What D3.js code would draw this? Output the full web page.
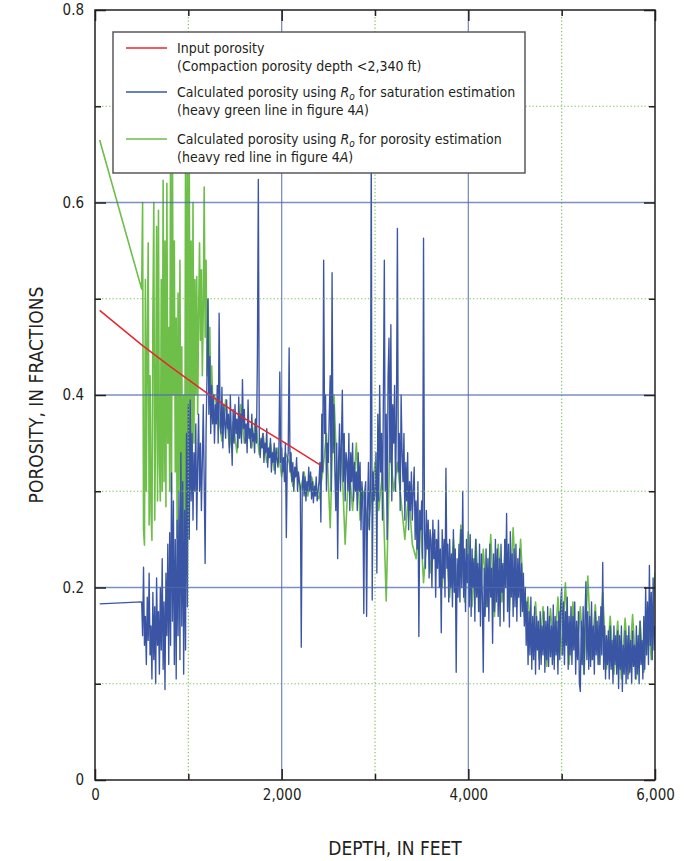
<!DOCTYPE html>
<html>
<head>
<meta charset="utf-8">
<script src="https://cdnjs.cloudflare.com/ajax/libs/d3/7.8.5/d3.min.js"></script>
<style>
  body { margin: 0; background: #fff; }
  svg text { font-family: "DejaVu Sans Condensed", "Liberation Sans Narrow", "Arial Narrow", sans-serif; font-stretch: condensed; fill: #231f20; }
</style>
</head>
<body>
<div id="chart"></div>
<script>
// input porosity, compaction curve (red)
var redDepth = [50, 500, 800, 1200, 1560, 2040, 2420];
var redPorosity = [0.488, 0.452, 0.430, 0.402, 0.378, 0.350, 0.327];

// Ro for saturation estimation (blue) - flat lead-in, then log every 10 ft (thousandths)
var blueLeadDepth = [50, 500];
var blueLeadPorosity = [0.183, 0.185];
var blueStart = 500, blueStep = 10;
var blueValues = [
  185,150,221,140,170,120,190,145,215,130,
  160,105,195,125,180,100,210,140,175,110,
  200,135,230,115,185,94,215,150,245,120,
  257,140,319,165,290,120,250,105,270,150,
  300,125,340,160,310,110,280,135,360,180,
  390,250,395,290,360,270,340,300,370,260,
  330,380,300,350,280,330,390,310,225,360,
  420,500,380,440,360,410,370,400,350,390,
  370,410,350,485,380,360,408,345,390,370,
  355,395,365,380,340,400,360,327,385,350,
  390,360,375,345,398,355,380,350,416,365,
  385,350,370,340,395,355,365,345,380,352,
  360,340,375,350,440,624,360,335,355,345,
  360,330,350,340,365,325,345,335,355,320,
  340,330,350,318,345,335,325,340,424,330,
  345,320,335,310,350,252,330,340,449,320,
  340,310,330,300,325,315,335,300,320,310,
  305,138,300,320,295,315,290,310,300,325,
  300,320,292,310,288,305,295,315,290,300,
  310,330,268,380,320,540,360,400,300,350,
  330,380,420,300,527,340,390,320,280,350,
  230,330,370,300,350,405,310,360,290,340,
  330,300,360,280,340,310,350,290,330,300,
  320,280,340,300,330,260,310,290,173,300,
  310,170,280,330,260,300,660,187,320,290,
  300,340,215,380,290,410,320,360,270,400,
  540,300,380,250,420,459,330,473,290,390,
  350,410,300,380,573,320,360,280,400,340,
  310,360,270,330,290,340,260,310,280,320,
  270,300,325,250,290,240,310,149,280,260,
  290,230,563,260,220,280,240,270,210,260,
  250,200,270,230,260,190,250,220,270,200,
  240,153,260,210,250,190,324,220,245,185,
  250,200,235,180,260,195,240,112,230,190,
  245,185,260,200,300,190,240,175,250,205,
  235,180,255,170,240,200,230,165,250,190,
  225,175,245,160,235,190,112,220,170,240,
  180,230,165,245,190,220,142,235,175,250,
  185,240,170,230,160,245,195,225,165,250,
  200,277,175,245,159,258,190,235,170,240,
  180,245,165,230,190,240,170,225,175,215,
  160,200,140,185,120,175,130,190,115,170,
  125,180,110,170,135,165,115,175,120,160,
  130,175,112,165,125,180,118,170,128,160,
  120,182,115,170,130,165,110,175,125,185,
  200,130,185,120,175,140,190,115,170,130,
  180,120,170,135,185,110,165,125,175,100,
  92,165,120,180,110,170,206,125,175,115,
  170,118,185,125,160,110,175,130,165,120,
  170,120,180,130,226,115,160,105,150,120,
  155,105,160,115,145,100,160,120,150,110,
  155,95,150,115,160,92,140,110,155,100,
  150,105,160,112,145,100,155,118,140,105,
  160,110,150,100,165,120,145,105,170,115,
  200,130,185,120,223,140,195,125,210,135,
  160
];

// Ro for porosity estimation (green) - straight lead-in, dense shallow part, coarser deep part
var greenLeadDepth = [50];
var greenLeadPorosity = [0.665];
var greenNearStart = 500, greenNearStep = 10;
var greenNearValues = [
  510,600,260,244,520,300,450,558,265,420,
  280,249,480,600,270,380,575,290,592,330,
  290,520,300,623,310,560,284,620,350,470,
  300,680,298,650,400,560,320,480,252,506,
  300,540,270,450,197,400,180,650,263,680,
  300,640,330,560,298,600,350,520,400,523,
  380,481,558,457,530,420,490,616,460,540,
  420,500,440,470,400,430,400
];
var greenFarStart = 1280, greenFarStep = 40;
var greenFarValues = [
  400,380,352,395,345,372,340,390,350,365,
  345,375,338,360,330,350,322,345,315,340,
  330,305,325,300,320,295,315,300,292,320,
  360,262,400,300,345,245,330,280,350,270,
  300,260,290,330,280,320,186,350,300,330,
  290,250,300,245,230,280,205,260,215,250,
  240,200,255,190,250,195,265,185,258,180,
  250,175,240,180,255,170,245,185,250,175,
  262,180,250,170,190,135,185,125,180,118,
  178,125,190,130,205,120,185,128,180,110,
  212,125,182,120,195,115,170,110,165,105,
  168,110,172,105,165,112,180,125,215
];

var xMajor = [0, 2000, 4000, 6000];
var xMinor = [1000, 3000, 5000];
var yMajor = [0, 0.2, 0.4, 0.6, 0.8];
var yMinor = [0.1, 0.3, 0.5, 0.7];

var legendItems = [
  {key: "red", first: "Input porosity", second: "(Compaction porosity depth <2,340 ft)"},
  {key: "blue", first: "saturation", second: "(heavy green line in figure 4"},
  {key: "green", first: "porosity", second: "(heavy red line in figure 4"}
];

var porosityChart = {
  colors: {red: "#e8262d", blue: "#3a55a4", green: "#6dbf4a"},

  draw: function() {
    var margin = {top: 10, right: 29, bottom: 81, left: 95};
    var width = 684 - margin.left - margin.right;
    var height = 861 - margin.top - margin.bottom;

    var svg = d3.select("#chart").append("svg")
        .attr("width", 684)
        .attr("height", 861);

    var g = svg.append("g")
        .attr("transform", "translate(" + margin.left + "," + margin.top + ")");

    var x = d3.scaleLinear().domain([0, 6000]).range([0, width]);
    var y = d3.scaleLinear().domain([0, 0.8]).range([height, 0]);

    g.append("clipPath").attr("id", "plot-clip")
      .append("rect").attr("width", width).attr("height", height);

    // series
    var line = d3.line()
        .x(function(d) { return x(d[0]); })
        .y(function(d) { return y(d[1]); });

    var green = greenLeadDepth.map(function(d, i) { return [d, greenLeadPorosity[i]]; })
      .concat(greenNearValues.map(function(v, i) { return [greenNearStart + i * greenNearStep, v / 1000]; }))
      .concat(greenFarValues.map(function(v, i) { return [greenFarStart + i * greenFarStep, v / 1000]; }));

    var blue = blueLeadDepth.map(function(d, i) { return [d, blueLeadPorosity[i]]; })
      .concat(blueValues.map(function(v, i) { return [blueStart + i * blueStep, v / 1000]; }).slice(1));

    var red = redDepth.map(function(d, i) { return [d, redPorosity[i]]; });

    var series = g.append("g").attr("clip-path", "url(#plot-clip)");
    [["green", green, 1.6], ["blue", blue, 1.35], ["red", red, 1.5]].forEach(function(s) {
      series.append("path")
        .datum(s[1])
        .attr("fill", "none")
        .attr("stroke", porosityChart.colors[s[0]])
        .attr("stroke-width", s[2])
        .attr("stroke-linejoin", "round")
        .attr("d", line);
    });

    porosityChart.grid(g, x, y, width, height);
    porosityChart.axes(g, x, y, width, height);
    porosityChart.legend(g);

    // axis titles
    svg.append("text")
      .attr("x", 395)
      .attr("y", 855)
      .attr("text-anchor", "middle")
      .style("font-size", "19px")
      .text("DEPTH, IN FEET");

    svg.append("text")
      .attr("transform", "translate(43," + (margin.top + height / 2) + ") rotate(-90)")
      .attr("text-anchor", "middle")
      .style("font-size", "19px")
      .text("POROSITY, IN FRACTIONS");
  },

  grid: function(g, x, y, width, height) {
    var grid = g.append("g").attr("class", "grid");

    // dotted minor lines
    grid.selectAll(".minor-x").data(xMinor).enter().append("line")
      .attr("x1", x).attr("x2", x).attr("y1", 0).attr("y2", height);
    grid.selectAll(".minor-y").data(yMinor).enter().append("line")
      .attr("x1", 0).attr("x2", width).attr("y1", y).attr("y2", y);
    grid.selectAll("line")
      .attr("stroke", "#7cc35a")
      .attr("stroke-width", 1.2)
      .attr("stroke-dasharray", "1.3,2.2");

    // solid major lines
    grid.selectAll(".major-x").data(xMajor.slice(1, -1)).enter().append("line")
      .attr("class", "major")
      .attr("x1", x).attr("x2", x).attr("y1", 0).attr("y2", height);
    grid.selectAll(".major-y").data(yMajor.slice(1, -1)).enter().append("line")
      .attr("class", "major")
      .attr("x1", 0).attr("x2", width).attr("y1", y).attr("y2", y);
    grid.selectAll(".major")
      .attr("stroke", "#4f69b0")
      .attr("stroke-opacity", 0.75)
      .attr("stroke-width", 1.3);
  },

  axes: function(g, x, y, width, height) {
    var fmtX = d3.format(",");
    var fmtY = function(d) { return d === 0 ? "0" : d3.format(".1f")(d); };

    var axisList = [
      {axis: d3.axisBottom(x).tickValues(xMajor).tickSizeInner(-11).tickPadding(9).tickFormat(fmtX), t: "translate(0," + height + ")"},
      {axis: d3.axisBottom(x).tickValues(xMinor).tickSizeInner(-6).tickFormat(""), t: "translate(0," + height + ")"},
      {axis: d3.axisTop(x).tickValues(xMajor).tickSizeInner(-11).tickFormat(""), t: null},
      {axis: d3.axisTop(x).tickValues(xMinor).tickSizeInner(-6).tickFormat(""), t: null},
      {axis: d3.axisLeft(y).tickValues(yMajor).tickSizeInner(-11).tickPadding(11).tickFormat(fmtY), t: null},
      {axis: d3.axisLeft(y).tickValues(yMinor).tickSizeInner(-6).tickFormat(""), t: null},
      {axis: d3.axisRight(y).tickValues(yMajor).tickSizeInner(-11).tickFormat(""), t: "translate(" + width + ",0)"},
      {axis: d3.axisRight(y).tickValues(yMinor).tickSizeInner(-6).tickFormat(""), t: "translate(" + width + ",0)"}
    ];

    axisList.forEach(function(a) {
      var ag = g.append("g").attr("transform", a.t).call(a.axis.tickSizeOuter(0));
      ag.select(".domain").remove();
      ag.selectAll(".tick line").attr("stroke", "#231f20").attr("stroke-width", 1.5);
      ag.selectAll(".tick text").style("font-size", "15px").attr("fill", "#231f20");
    });

    g.append("rect")
      .attr("width", width)
      .attr("height", height)
      .attr("fill", "none")
      .attr("stroke", "#231f20")
      .attr("stroke-width", 1.5);
  },

  legend: function(g) {
    var lg = g.append("g").attr("transform", "translate(18,22)");

    lg.append("rect")
      .attr("width", 412)
      .attr("height", 141)
      .attr("fill", "#fff")
      .attr("stroke", "#58595b")
      .attr("stroke-width", 1.5);

    var rowY = [16, 60, 107];

    legendItems.forEach(function(item, i) {
      lg.append("line")
        .attr("x1", 13).attr("x2", 54)
        .attr("y1", rowY[i]).attr("y2", rowY[i])
        .attr("stroke", porosityChart.colors[item.key])
        .attr("stroke-width", 1.5);

      var t1 = lg.append("text").attr("x", 64).attr("y", rowY[i] + 5).style("font-size", "14px");
      var t2 = lg.append("text").attr("x", 64).attr("y", rowY[i] + 23).style("font-size", "14px");

      if (item.key === "red") {
        t1.text(item.first);
        t2.text(item.second);
      } else {
        t1.append("tspan").text("Calculated porosity using ");
        t1.append("tspan").style("font-style", "italic").text("R");
        t1.append("tspan").style("font-style", "italic").style("font-size", "10px").attr("dy", 3).text("o");
        t1.append("tspan").attr("dy", -3).text(" for " + item.first + " estimation");
        t2.append("tspan").text(item.second);
        t2.append("tspan").style("font-style", "italic").text("A");
        t2.append("tspan").text(")");
      }
    });
  }
};

porosityChart.draw();
</script>
</body>
</html>
